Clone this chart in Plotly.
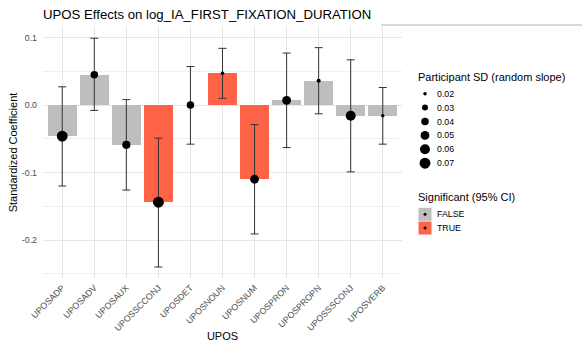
import plotly.graph_objects as go

# ---------------- data ----------------
categories = ["UPOSADP", "UPOSADV", "UPOSAUX", "UPOSSCCONJ", "UPOSDET", "UPOSNOUN",
              "UPOSNUM", "UPOSPRON", "UPOSPROPN", "UPOSSSCONJ", "UPOSVERB"]
coef = [-0.046, 0.045, -0.059, -0.144, 0.000, 0.047, -0.110, 0.007, 0.036, -0.016, -0.016]
ci_low = [-0.120, -0.008, -0.126, -0.240, -0.058, 0.010, -0.191, -0.063, -0.013, -0.099, -0.058]
ci_high = [0.027, 0.099, 0.008, -0.049, 0.057, 0.084, -0.029, 0.077, 0.085, 0.067, 0.026]
participant_sd = [0.07, 0.04, 0.045, 0.07, 0.04, 0.02, 0.05, 0.05, 0.022, 0.06, 0.02]

legend_sd = [0.02, 0.03, 0.04, 0.05, 0.06, 0.07]
legend_sig = ["FALSE", "TRUE"]
y_tickvals = [-0.2, -0.1, 0.0, 0.1]
y_ticktext = ["-0.2", "-0.1", "0.0", "0.1"]
y_minor = [-0.25, -0.15, -0.05, 0.05]

# ---------------- styles ----------------
FONT = "Liberation Sans, Arial, sans-serif"
GREY = "#BEBEBE"
TOMATO = "#FF6347"
W, H = 582, 346
L, R, T, B = 43, 0, 27, 68
PANEL_RIGHT = 402


def dot_size(v):
    t = max(0.0, (v - 0.0165) / (0.0715 - 0.0165))
    return 1.0 + 10.0 * t ** 0.5


significant = [(lo > 0) or (hi < 0) for lo, hi in zip(ci_low, ci_high)]
bar_colors = [TOMATO if s else GREY for s in significant]

fig = go.Figure()

fig.add_trace(go.Bar(
    x=categories, y=coef, width=0.9,
    marker=dict(color=bar_colors, line=dict(width=0)),
    showlegend=False, hoverinfo="skip",
))

fig.add_trace(go.Scatter(
    x=categories, y=coef, mode="markers",
    marker=dict(color="#000000", opacity=1, size=[dot_size(v) for v in participant_sd],
                line=dict(width=0, color="#000000")),
    error_y=dict(type="data", symmetric=False,
                 array=[h - c for h, c in zip(ci_high, coef)],
                 arrayminus=[c - l for c, l in zip(coef, ci_low)],
                 color="#333333", thickness=1, width=4),
    showlegend=False,
))

# ---------------- legend drawn on an auxiliary axis (pixel coordinates) ----------------
plot_w = W - L - R
leg_x0 = 410
fig.add_trace(go.Scatter(
    x=[425] * len(legend_sd),
    y=[93.7 + i * 13.9 for i in range(len(legend_sd))],
    mode="markers",
    marker=dict(color="#000000", opacity=1, size=[dot_size(v) for v in legend_sd],
                line=dict(width=0, color="#000000")),
    xaxis="x2", yaxis="y2", showlegend=False, hoverinfo="skip",
))
sig_y = [214.3 + i * 13.7 for i in range(len(legend_sig))]
fig.add_trace(go.Scatter(
    x=[425] * len(legend_sig), y=sig_y, mode="markers",
    marker=dict(symbol="square", size=13, color=[GREY, TOMATO], opacity=1, line=dict(width=0)),
    xaxis="x2", yaxis="y2", showlegend=False, hoverinfo="skip",
))
fig.add_trace(go.Scatter(
    x=[425] * len(legend_sig), y=sig_y, mode="markers",
    marker=dict(size=3, color="#000000", opacity=1, line=dict(width=0)),
    xaxis="x2", yaxis="y2", showlegend=False, hoverinfo="skip",
))

annotations = []
annotations.append(dict(x=416, y=76.7, xref="x2", yref="y2", text="Participant SD (random slope)",
                        showarrow=False, xanchor="left", yanchor="middle",
                        font=dict(family=FONT, size=11, color="black")))
for i, v in enumerate(legend_sd):
    annotations.append(dict(x=435, y=93.7 + i * 13.9, xref="x2", yref="y2", text=f"{v:.2f}",
                            showarrow=False, xanchor="left", yanchor="middle",
                            font=dict(family=FONT, size=8.8, color="black")))
annotations.append(dict(x=416, y=196.7, xref="x2", yref="y2", text="Significant (95% CI)",
                        showarrow=False, xanchor="left", yanchor="middle",
                        font=dict(family=FONT, size=11, color="black")))
for yy, lab in zip(sig_y, legend_sig):
    annotations.append(dict(x=435, y=yy, xref="x2", yref="y2", text=lab,
                            showarrow=False, xanchor="left", yanchor="middle",
                            font=dict(family=FONT, size=8.8, color="black")))

line_y = (H - B - 25) / (H - T - B)

fig.update_layout(
    width=W, height=H,
    margin=dict(l=L, r=R, t=T, b=B, pad=0),
    paper_bgcolor="white", plot_bgcolor="white",
    font=dict(family=FONT, color="black"),
    bargap=0,
    title=dict(text="UPOS Effects on log_IA_FIRST_FIXATION_DURATION",
               x=0, xref="paper", xanchor="left",
               y=1 - 14.5 / H, yref="container", yanchor="middle",
               font=dict(family=FONT, size=13.2, color="black")),
    xaxis=dict(domain=[0, (PANEL_RIGHT - L) / plot_w], range=[-0.6, 10.6],
               type="category", categoryorder="array", categoryarray=categories,
               showgrid=True, gridcolor="#e6e6e6", gridwidth=1.1,
               zeroline=False, showline=False, ticks="",
               tickangle=-45, tickfont=dict(family=FONT, size=8.8, color="#4d4d4d"),
               ticklabelstandoff=2,
               title=dict(text="UPOS", font=dict(family=FONT, size=11, color="black"), standoff=0),
               automargin=False, fixedrange=True),
    yaxis=dict(range=[-0.2563, 0.1156],
               tickmode="array", tickvals=y_tickvals, ticktext=y_ticktext,
               showgrid=True, gridcolor="#e6e6e6", gridwidth=1.1,
               minor=dict(tickmode="array", tickvals=y_minor, showgrid=True,
                          gridcolor="#efefef", gridwidth=0.6, ticks=""),
               zeroline=False, showline=False, ticks="",
               tickfont=dict(family=FONT, size=8.8, color="#4d4d4d"),
               ticklabelstandoff=5,
               title=dict(text="Standardized Coefficient",
                          font=dict(family=FONT, size=11, color="black"), standoff=1),
               automargin=False, fixedrange=True),
    xaxis2=dict(domain=[(leg_x0 - L) / plot_w, 1], range=[leg_x0, W], visible=False,
                fixedrange=True, anchor="y2"),
    yaxis2=dict(domain=[0, 1], range=[H - B, T], visible=False, fixedrange=True, anchor="x2"),
    annotations=annotations,
    shapes=[dict(type="line", xref="paper", yref="paper",
                 x0=(381 - L) / plot_w, x1=1, y0=line_y, y1=line_y,
                 line=dict(color="#b4b4b4", width=1))],
    showlegend=False,
)

fig.write_html("out.html")
